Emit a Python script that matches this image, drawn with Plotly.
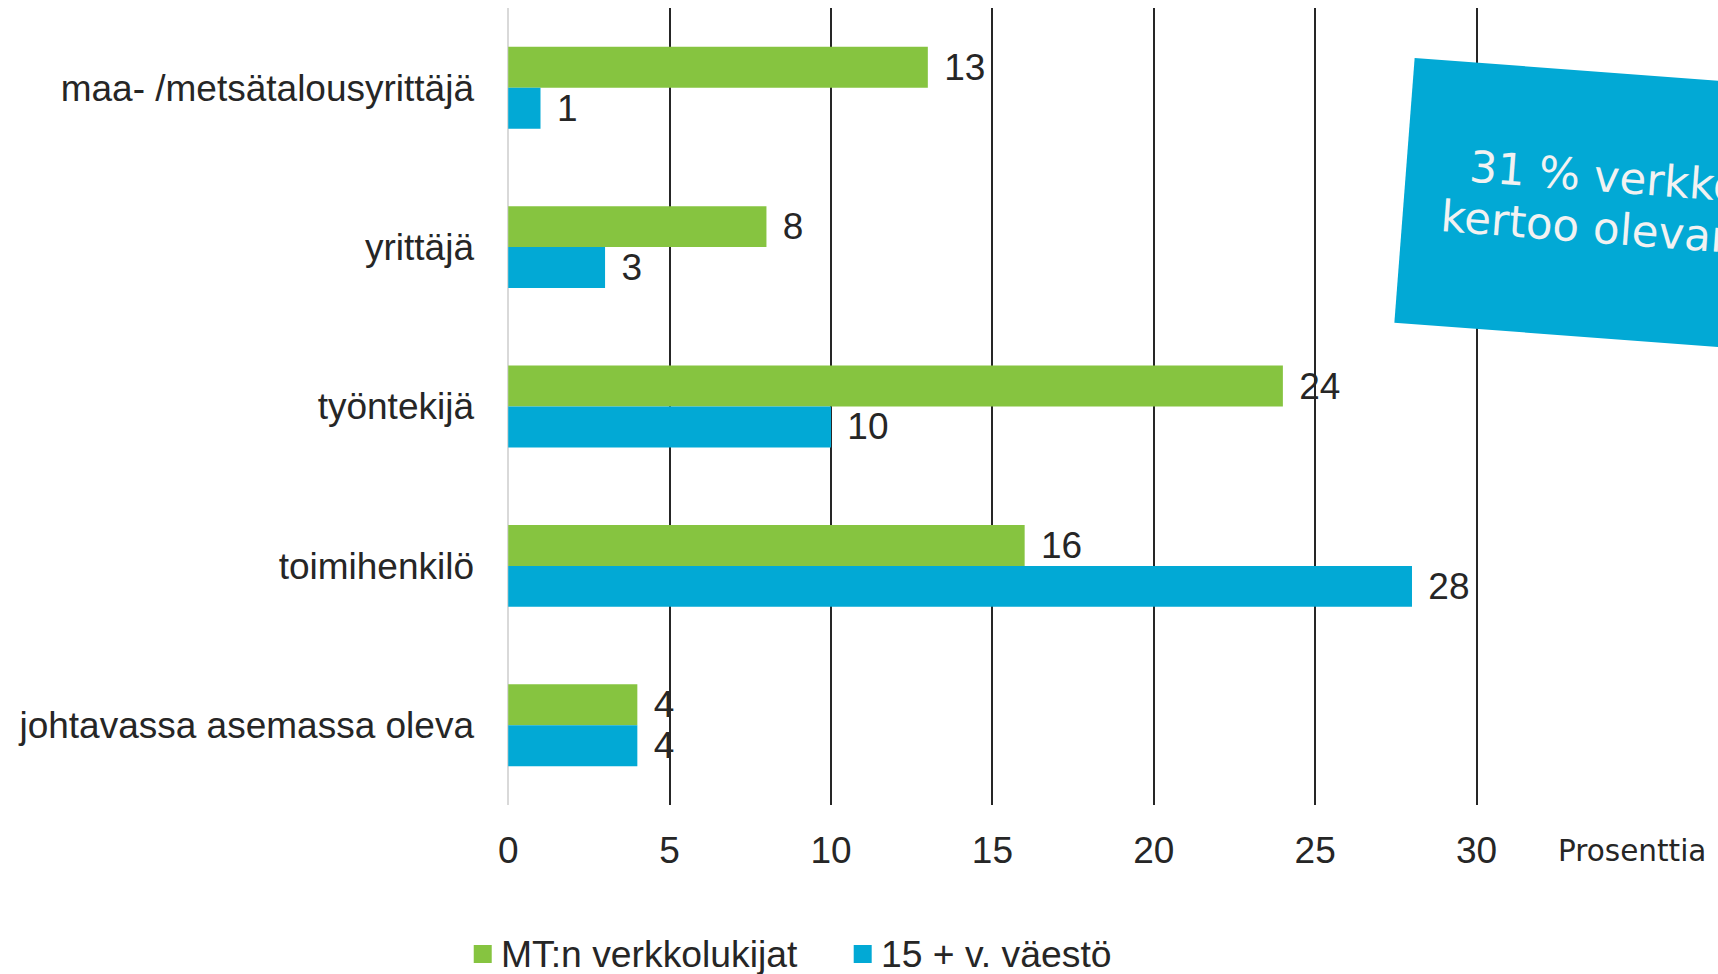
import math
import plotly.graph_objects as go

# ---- data ----
categories = [
    "maa- /metsätalousyrittäjä",
    "yrittäjä",
    "työntekijä",
    "toimihenkilö",
    "johtavassa asemassa oleva",
]
mt_readers = [13, 8, 24, 16, 4]
population_15 = [1, 3, 10, 28, 4]
series_names = ["MT:n verkkolukijat", "15 + v. väestö"]
x_ticks = [0, 5, 10, 15, 20, 25, 30]
axis_title = "Prosenttia"
box_lines = ["31 % verkkolukijoista", "kertoo olevansa eläkeläinen"]

GREEN = "#86C440"
BLUE = "#02A9D5"
TEXT = "#262626"
ARIAL = "Liberation Sans, Arial, sans-serif"
VERDANA = "DejaVu Sans, Verdana, sans-serif"

W, H = 1718, 974
X_MIN, X_MAX = -0.1, 30.2
UNIT = 32.28
X0_PX = 508.5
LEFT = X0_PX + X_MIN * UNIT
RIGHT = X0_PX + X_MAX * UNIT
TOP, BOTTOM = 8, 805


def px_x(p):
    return (p - LEFT) / (RIGHT - LEFT)


def px_y(p):
    return (BOTTOM - p) / (BOTTOM - TOP)


fig = go.Figure()
for vals, nm, col in zip([mt_readers, population_15], series_names, [GREEN, BLUE]):
    fig.add_trace(go.Bar(
        y=categories, x=vals, name=nm, orientation="h",
        marker=dict(color=col, line=dict(width=0)),
        texttemplate="\u00a0\u200a%{x}", textposition="outside", cliponaxis=False,
        constraintext="none", textfont=dict(family=ARIAL, size=37, color=TEXT),
        showlegend=False, hoverinfo="skip",
    ))

# rotated blue box
ang = math.radians(4.3)
tl = (1415, 58)
bl = (1394.7, 322.7)
wbox = 520
tr = (tl[0] + wbox * math.cos(ang), tl[1] + wbox * math.sin(ang))
br = (bl[0] + wbox * math.cos(ang), bl[1] + wbox * math.sin(ang))
path = "M{},{} L{},{} L{},{} L{},{} Z".format(
    px_x(tl[0]), px_y(tl[1]), px_x(tr[0]), px_y(tr[1]),
    px_x(br[0]), px_y(br[1]), px_x(bl[0]), px_y(bl[1]))
fig.add_shape(type="path", path=path, xref="paper", yref="paper",
              fillcolor=BLUE, line=dict(width=0), layer="above")

annotations = []
fs_box = 43.6
starts = [(1468, 179), (1439, 229)]
char_w = [10.709, 14.087]
for line, (sx, sy), em in zip(box_lines, starts, char_w):
    w = em * fs_box
    cx = sx + (w / 2) * math.cos(ang) + 13 * math.sin(ang)
    cy = sy + (w / 2) * math.sin(ang) - 13 * math.cos(ang)
    annotations.append(dict(
        text=line, xref="paper", yref="paper", x=px_x(cx), y=px_y(cy),
        xanchor="center", yanchor="middle", showarrow=False, textangle=4.3,
        font=dict(family=VERDANA, size=fs_box, color="#F2F2F2"),
    ))

annotations.append(dict(
    text=axis_title, xref="paper", yref="paper", x=px_x(1556), y=px_y(851),
    xanchor="left", yanchor="middle", showarrow=False,
    font=dict(family=VERDANA, size=29.5, color=TEXT),
))

# legend (drawn manually so it does not push the plot margins)
legend_sq_x = [474, 854]
legend_y = 954
for nm, col, sx in zip(series_names, [GREEN, BLUE], legend_sq_x):
    fig.add_shape(type="rect", xref="paper", yref="paper",
                  x0=px_x(sx), x1=px_x(sx + 18),
                  y0=px_y(legend_y - 9), y1=px_y(legend_y + 9),
                  fillcolor=col, line=dict(width=0))
    annotations.append(dict(
        text=nm, xref="paper", yref="paper", x=px_x(sx + 25), y=px_y(legend_y),
        xanchor="left", yanchor="middle", showarrow=False,
        font=dict(family=ARIAL, size=37.3, color=TEXT),
    ))

fig.update_layout(
    width=W, height=H, autosize=False,
    margin=dict(l=LEFT, r=W - RIGHT, t=TOP, b=H - BOTTOM, pad=0),
    paper_bgcolor="white", plot_bgcolor="white",
    barmode="group", bargap=0.486, bargroupgap=0,
    font=dict(family=ARIAL, color=TEXT),
    showlegend=False,
    annotations=annotations,
)
fig.update_xaxes(
    range=[X_MIN, X_MAX], tickvals=x_ticks, ticktext=[str(t) for t in x_ticks],
    showgrid=True, gridcolor="#262626", gridwidth=1.5,
    zeroline=True, zerolinecolor="#D9D9D9", zerolinewidth=1.5,
    showline=False, ticks="", ticklabelstandoff=20,
    tickfont=dict(family=ARIAL, size=37, color=TEXT),
)
fig.update_yaxes(
    autorange="reversed", showgrid=False, zeroline=False, showline=False,
    ticks="", ticklabelstandoff=30,
    tickfont=dict(family=ARIAL, size=37, color=TEXT),
)

fig.write_html(
    "out.html",
    config={"displayModeBar": False},
    post_script="document.body.style.margin='0px';document.body.style.overflow='hidden';",
)
